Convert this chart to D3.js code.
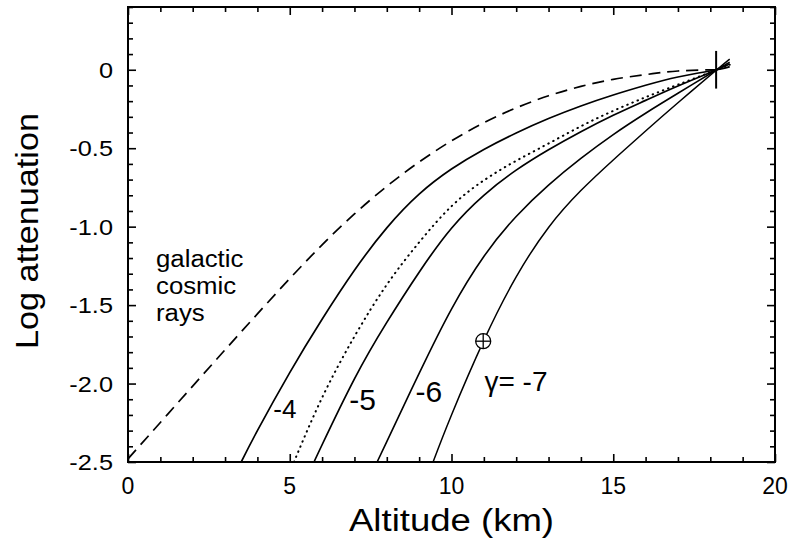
<!DOCTYPE html>
<html>
<head>
<meta charset="utf-8">
<script src="https://cdn.jsdelivr.net/npm/d3@7"></script>
<style>
  html, body { margin: 0; padding: 0; background: #fff; }
  svg { display: block; }
  text { font-family: "Liberation Sans", Arial, Helvetica, sans-serif; fill: #000; }
</style>
</head>
<body>
<svg id="chart" width="790" height="545"></svg>
<script>
// ---- data ----
const xTicks = [0, 5, 10, 15, 20];
const yTicks = [0, -0.5, -1.0, -1.5, -2.0, -2.5];
const yTickLabels = ["0", "-0.5", "-1.0", "-1.5", "-2.0", "-2.5"];

// galactic cosmic rays (dashed)
const gcrX = [0, 1, 2, 3, 4, 5, 6, 7, 8, 9, 10, 11, 12, 13, 14, 15, 16, 17, 18.2];
const gcrY = [-2.48, -2.248, -2.016, -1.785, -1.556, -1.331, -1.116, -0.919, -0.743, -0.588, -0.453, -0.338, -0.243, -0.166, -0.106, -0.061, -0.031, -0.008, 0.0];

// gamma = -4
const g4X = [3.5, 4, 5, 6, 7, 8, 9, 10, 11, 12, 13, 14, 15, 16, 17, 18.2, 18.6];
const g4Y = [-2.50, -2.30, -1.93, -1.59, -1.278, -1.008, -0.793, -0.633, -0.508, -0.403, -0.311, -0.231, -0.161, -0.099, -0.046, 0.0, 0.02];

// dotted (intermediate)
const gdX = [5.13, 6, 7, 8, 9, 10, 11, 12, 13, 14, 15, 16, 17, 18.2, 18.6];
const gdY = [-2.50, -2.09, -1.70, -1.37, -1.10, -0.87, -0.705, -0.58, -0.47, -0.36, -0.262, -0.175, -0.095, 0.0, 0.032];

// gamma = -5
const g5X = [5.75, 6, 7, 8, 9, 10, 11, 12, 13, 14, 15, 16, 17, 18.2, 18.6];
const g5Y = [-2.50, -2.39, -1.97, -1.61, -1.29, -1.01, -0.80, -0.64, -0.51, -0.395, -0.29, -0.195, -0.103, 0.0, 0.036];

// gamma = -6
const g6X = [7.7, 8, 9, 10, 11, 12, 13, 14, 15, 16, 17, 18.2, 18.6];
const g6Y = [-2.50, -2.37, -1.935, -1.525, -1.19, -0.935, -0.735, -0.565, -0.413, -0.277, -0.15, 0.0, 0.048];

// gamma = -7
const g7X = [9.43, 10, 11, 12, 13, 14, 15, 16, 17, 18.2, 18.6];
const g7Y = [-2.50, -2.20, -1.725, -1.32, -1.005, -0.77, -0.575, -0.39, -0.21, 0.0, 0.068];

const markerX = 10.98, markerY = -1.73;
const pivotX = 18.18, pivotY = 0, pivotHalf = 0.12;

const curveLabels = [
  { text: "-4", x: 4.85, y: -2.22, size: 26, anchor: "middle" },
  { text: "-5", x: 7.25, y: -2.17, size: 30, anchor: "middle" },
  { text: "-6", x: 9.30, y: -2.12, size: 30, anchor: "middle" },
  { text: "\u03b3= -7", x: 11.02, y: -2.05, size: 28, anchor: "start" }
];
const gcrLabel = ["galactic", "cosmic", "rays"];

// ---- layout ----
const svg = d3.select("#chart");
const L = 128, R = 775, T = 7, B = 462;
const x = d3.scaleLinear().domain([0, 20]).range([L, R]);
const y = d3.scaleLinear().domain([-2.5, 0.4]).range([B, T]);

svg.append("defs").append("clipPath").attr("id", "clip")
  .append("rect").attr("x", L).attr("y", T).attr("width", R - L).attr("height", B - T);

const line = d3.line().x(d => x(d[0])).y(d => y(d[1])).curve(d3.curveNatural);
const zip = (a, b) => a.map((v, i) => [v, b[i]]);

const plot = svg.append("g").attr("clip-path", "url(#clip)");
const series = [
  { X: gcrX, Y: gcrY, dash: "12,7", w: 1.7, cap: "butt" },
  { X: g4X, Y: g4Y, dash: null, w: 1.7, cap: "butt" },
  { X: gdX, Y: gdY, dash: "0.5,5", w: 2.0, cap: "round" },
  { X: g5X, Y: g5Y, dash: null, w: 1.7, cap: "butt" },
  { X: g6X, Y: g6Y, dash: null, w: 1.6, cap: "butt" },
  { X: g7X, Y: g7Y, dash: null, w: 1.5, cap: "butt" }
];
series.forEach(s => {
  plot.append("path").datum(zip(s.X, s.Y))
    .attr("d", line).attr("fill", "none").attr("stroke", "#000")
    .attr("stroke-width", s.w)
    .attr("stroke-dasharray", s.dash)
    .attr("stroke-linecap", s.cap);
});

// pivot cross
svg.append("line").attr("x1", x(pivotX)).attr("x2", x(pivotX))
  .attr("y1", y(pivotY + pivotHalf)).attr("y2", y(pivotY - pivotHalf))
  .attr("stroke", "#000").attr("stroke-width", 2);

// circled plus marker
const mg = svg.append("g");
const mx = x(markerX), my = y(markerY);
mg.append("circle").attr("cx", mx).attr("cy", my).attr("r", 7.5)
  .attr("fill", "#fff").attr("stroke", "#000").attr("stroke-width", 1.3);
mg.append("line").attr("x1", mx - 7.5).attr("x2", mx + 7.5)
  .attr("y1", my).attr("y2", my).attr("stroke", "#000").attr("stroke-width", 1.3);
mg.append("line").attr("x1", mx).attr("x2", mx)
  .attr("y1", my - 7.5).attr("y2", my + 7.5).attr("stroke", "#000").attr("stroke-width", 1.3);

// frame
svg.append("rect").attr("x", L).attr("y", T).attr("width", R - L).attr("height", B - T)
  .attr("fill", "none").attr("stroke", "#000").attr("stroke-width", 2);

// ticks (inward) via axes
const xMinor = d3.range(0, 21, 1);
const yMinor = d3.range(-25, 5, 1).map(v => v / 10);
function tickLen(isMajor) { return isMajor ? -8 : -5; }

svg.append("g").attr("transform", `translate(0,${B})`)
  .call(d3.axisBottom(x).tickValues(xMinor).tickSizeInner(0).tickSizeOuter(0).tickFormat(""))
  .call(g => g.select(".domain").remove())
  .call(g => g.selectAll(".tick line").attr("y2", d => tickLen(d % 5 === 0)).attr("stroke-width", 1.6));
svg.append("g").attr("transform", `translate(0,${T})`)
  .call(d3.axisTop(x).tickValues(xMinor).tickSizeInner(0).tickSizeOuter(0).tickFormat(""))
  .call(g => g.select(".domain").remove())
  .call(g => g.selectAll(".tick line").attr("y2", d => -tickLen(d % 5 === 0)).attr("stroke-width", 1.6));
const isMajY = d => Math.abs(Math.round(d * 2) - d * 2) < 1e-6;
svg.append("g").attr("transform", `translate(${L},0)`)
  .call(d3.axisLeft(y).tickValues(yMinor).tickSizeInner(0).tickSizeOuter(0).tickFormat(""))
  .call(g => g.select(".domain").remove())
  .call(g => g.selectAll(".tick line").attr("x2", d => -tickLen(isMajY(d))).attr("stroke-width", 1.6));
svg.append("g").attr("transform", `translate(${R},0)`)
  .call(d3.axisRight(y).tickValues(yMinor).tickSizeInner(0).tickSizeOuter(0).tickFormat(""))
  .call(g => g.select(".domain").remove())
  .call(g => g.selectAll(".tick line").attr("x2", d => tickLen(isMajY(d))).attr("stroke-width", 1.6));

// tick labels
svg.append("g").selectAll("text").data(xTicks).join("text")
  .attr("x", d => x(d)).attr("y", B + 32)
  .attr("text-anchor", "middle").attr("font-size", 23).text(d => d);
svg.append("g").selectAll("text").data(yTicks).join("text")
  .attr("x", L - 15).attr("y", d => y(d) + 8)
  .attr("text-anchor", "end").attr("font-size", 22).text((d, i) => yTickLabels[i])
  .each(function () {
    const w = this.getComputedTextLength();
    d3.select(this).attr("textLength", w * 1.15).attr("lengthAdjust", "spacingAndGlyphs");
  });

// axis titles
svg.append("text").attr("x", (L + R) / 2).attr("y", 531)
  .attr("text-anchor", "middle").attr("font-size", 31)
  .attr("textLength", 205).attr("lengthAdjust", "spacingAndGlyphs").text("Altitude (km)");
svg.append("text").attr("transform", `translate(38,${231}) rotate(-90)`)
  .attr("text-anchor", "middle").attr("font-size", 31)
  .attr("textLength", 236).attr("lengthAdjust", "spacingAndGlyphs").text("Log attenuation");

// curve labels
svg.append("g").selectAll("text").data(curveLabels).join("text")
  .attr("x", d => x(d.x)).attr("y", d => y(d.y))
  .attr("text-anchor", d => d.anchor).attr("font-size", d => d.size).text(d => d.text);

svg.append("g").selectAll("text").data(gcrLabel).join("text")
  .attr("x", 156).attr("y", (d, i) => 267 + i * 27)
  .attr("font-size", 23).text(d => d)
  .each(function () {
    const w = this.getComputedTextLength();
    d3.select(this).attr("textLength", w * 1.12).attr("lengthAdjust", "spacingAndGlyphs");
  });
</script>
</body>
</html>
